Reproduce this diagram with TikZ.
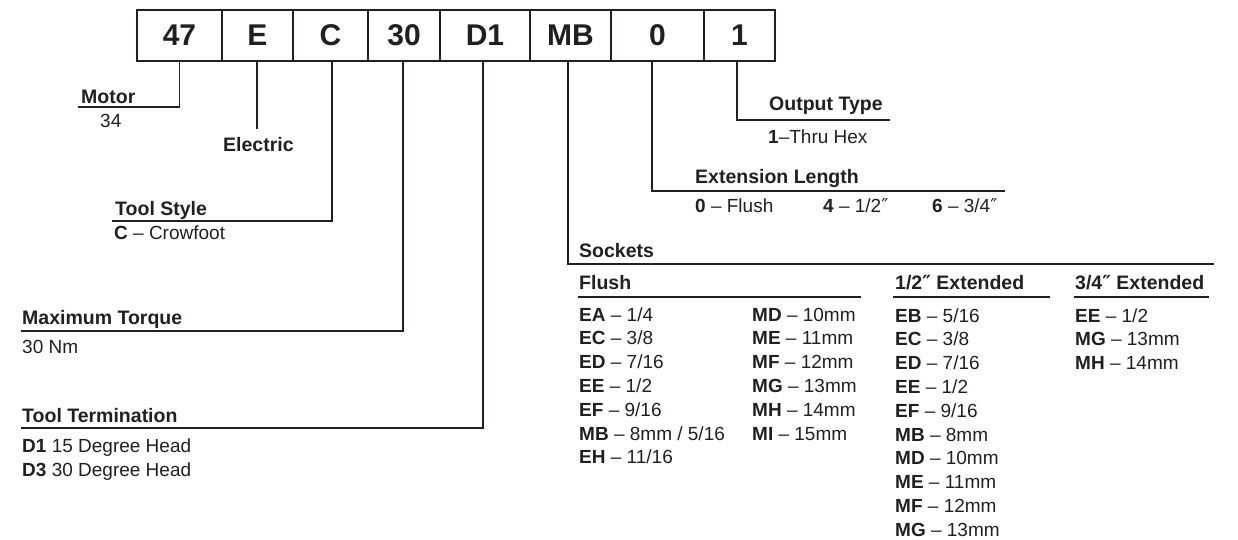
\documentclass[tikz,border=0pt]{standalone}
\usepackage{fontspec}
\setmainfont{Liberation Sans}
\newfontfamily\dvsans{DejaVu Sans}
\usetikzlibrary{positioning}
\definecolor{ink}{HTML}{231F20}
\newcommand{\sk}[2]{\textbf{#1} -- #2}
\newcommand{\inch}{{\dvsans\char"2033}}

\begin{document}
\begin{tikzpicture}[
    x=1pt, y=-1pt, color=ink,
    cell/.style={draw, line width=1.8pt, minimum height=51, inner sep=0, outer sep=0, font=\fontsize{30}{36}\selectfont\bfseries},
    lead/.style={line width=1.8pt},
    hd/.style={anchor=base west, inner sep=0, font=\fontsize{19.5}{24}\selectfont\bfseries},
    txt/.style={anchor=base west, inner sep=0, font=\fontsize{19}{24}\selectfont}
]
\useasboundingbox (0,0) rectangle (1238,539);

% code boxes
\node[cell, minimum width=85] (b47) at (179.5,35.5) {47};
\node[cell, minimum width=71, right=0pt of b47] (bE) {E};
\node[cell, minimum width=75, right=0pt of bE] (bC) {C};
\node[cell, minimum width=72, right=0pt of bC] (b30) {30};
\node[cell, minimum width=90, right=0pt of b30] (bD) {D1};
\node[cell, minimum width=81, right=0pt of bD] (bMB) {MB};
\node[cell, minimum width=93, right=0pt of bMB] (b0) {0};
\node[cell, minimum width=71, right=0pt of b0] (b1) {1};

% line ends
\coordinate (motorend) at (78,107);
\coordinate (elecend) at (257,129);
\coordinate (styleend) at (112,221);
\coordinate (torqend) at (21,331);
\coordinate (termend) at (21,428);
\coordinate (sockend) at (1214,264);
\coordinate (extend) at (1005,191);
\coordinate (outend) at (890,120);

% labels
\node[hd] (motor) at (81,103) {Motor};
\node[txt] (motorv) at (100,127) {34};
\node[hd] (elec) at (223,151) {Electric};
\node[hd] (style) at (115,215) {Tool Style};
\node[txt] (stylev) at (114,239) {\textbf{C} -- Crowfoot};
\node[hd] (torq) at (22,324) {Maximum Torque};
\node[txt] (torqv) at (22,353) {30 Nm};
\node[hd] (term) at (22,422) {Tool Termination};
\node[txt] (term1) at (22,452) {\textbf{D1} 15 Degree Head};
\node[txt] (term3) at (22,476) {\textbf{D3} 30 Degree Head};
\node[hd] (outp) at (769,110) {Output Type};
\node[txt] (outv) at (768,143) {\textbf{1}--Thru Hex};
\node[hd] (ext) at (695,183) {Extension Length};
\node[txt] (ext0) at (695,212) {\textbf{0} -- Flush};
\node[txt] (ext4) at (823,212) {\textbf{4} -- 1/2\inch};
\node[txt] (ext6) at (932,212) {\textbf{6} -- 3/4\inch};
\node[hd] (sock) at (579,257) {Sockets};
\node[hd] (flush) at (579,289) {Flush};
\node[hd] (half) at (895,289) {1/2\inch{} Extended};
\node[hd] (threeq) at (1075,289) {3/4\inch{} Extended};

% leaders
\draw[lead] (b47.south) |- (motorend);
\draw[lead] ([xshift=-0.5]bE.south) -- (elecend);
\draw[lead] ([xshift=1.5]bC.south) |- (styleend);
\draw[lead] ([xshift=-1]b30.south) |- (torqend);
\draw[lead] ([xshift=-2]bD.south) |- (termend);
\draw[lead] ([xshift=-2.5]bMB.south) |- (sockend);
\draw[lead] ([xshift=-5.5]b0.south) |- (extend);
\draw[lead] ([xshift=-2.5]b1.south) |- (outend);

% column rules
\draw[lead] ([shift={(-1,8)}]flush.base west) -- ++(283,0);
\draw[lead] ([shift={(-2,8)}]half.base west) -- ++(157,0);
\draw[lead] ([shift={(-1,8)}]threeq.base west) -- ++(135,0);

% socket lists
\foreach \t [count=\i from 0] in {\sk{EA}{1/4}, \sk{EC}{3/8}, \sk{ED}{7/16}, \sk{EE}{1/2}, \sk{EF}{9/16}, \sk{MB}{8mm / 5/16}, \sk{EH}{11/16}}
  \node[txt] (fa\i) at (579,321+23.8*\i) {\t};
\foreach \t [count=\i from 0] in {\sk{MD}{10mm}, \sk{ME}{11mm}, \sk{MF}{12mm}, \sk{MG}{13mm}, \sk{MH}{14mm}, \sk{MI}{15mm}}
  \node[txt] (fb\i) at (752,321+23.8*\i) {\t};
\foreach \t [count=\i from 0] in {\sk{EB}{5/16}, \sk{EC}{3/8}, \sk{ED}{7/16}, \sk{EE}{1/2}, \sk{EF}{9/16}, \sk{MB}{8mm}, \sk{MD}{10mm}, \sk{ME}{11mm}, \sk{MF}{12mm}, \sk{MG}{13mm}}
  \node[txt] (ha\i) at (895,322+23.8*\i) {\t};
\foreach \t [count=\i from 0] in {\sk{EE}{1/2}, \sk{MG}{13mm}, \sk{MH}{14mm}}
  \node[txt] (ta\i) at (1075,322+23.8*\i) {\t};
\end{tikzpicture}
\end{document}
